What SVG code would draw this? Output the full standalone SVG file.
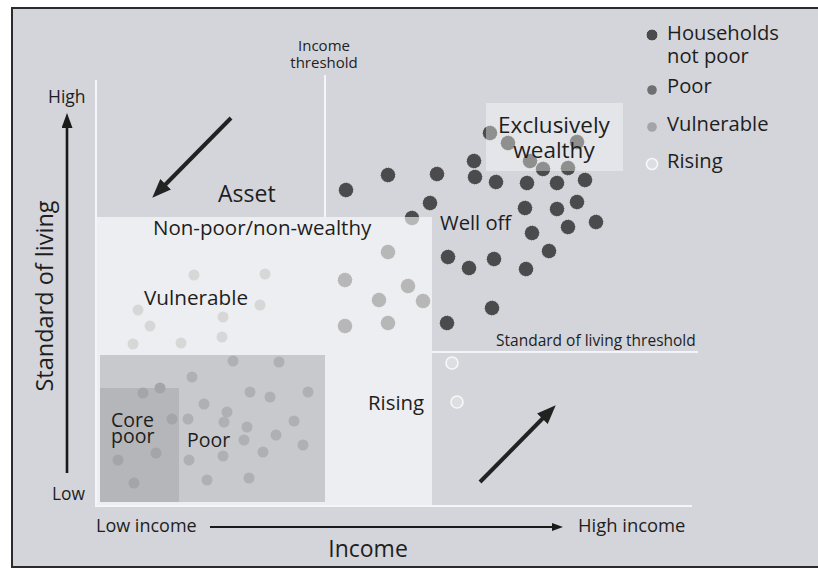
<svg xmlns="http://www.w3.org/2000/svg" width="818" height="572" viewBox="0 0 818 572">
  <defs>
    <style>
      text { font-family: "Open Sans", "Noto Sans", "DejaVu Sans", sans-serif; fill: #1e1e1e; }
      .hh { fill: #4b4b4d; stroke: #e2e2e2; stroke-width: 1; stroke-dasharray: 1.4 1.2; }
      .faint { fill: #9c9c9e; }
      .pd { fill: #afb0b3; }
      .cd { fill: #a4a5a8; }
      .rise { fill: #dcdee2; stroke: #f7f7f7; stroke-width: 1.6; }
      .wline { stroke: #f4f5f7; stroke-width: 2; fill: none; }
      .trend { stroke: #222; stroke-width: 4; fill: none; marker-end: url(#trend-head); }
      .axis { stroke: #1a1a1a; fill: none; }
    </style>
    <marker id="trend-head" markerUnits="userSpaceOnUse" markerWidth="22" markerHeight="16" refX="8" refY="7.5" orient="auto">
      <path d="M0,0 L19,7.5 L0,15 Z" fill="#222"/>
    </marker>
    <marker id="axis-head-v" markerUnits="userSpaceOnUse" markerWidth="16" markerHeight="12" refX="4" refY="5.5" orient="auto">
      <path d="M0,0 L15,5.5 L0,11 Z" fill="#1a1a1a"/>
    </marker>
    <marker id="axis-head-h" markerUnits="userSpaceOnUse" markerWidth="12" markerHeight="10" refX="3" refY="4" orient="auto">
      <path d="M0,0 L11,4 L0,8 Z" fill="#1a1a1a"/>
    </marker>
  </defs>

  <!-- page and panel -->
  <rect x="0" y="0" width="818" height="572" fill="#ffffff"/>
  <rect x="12" y="8" width="830" height="559" fill="#d3d5db" stroke="#2b2b2b" stroke-width="2"/>

  <!-- household dots (drawn under the translucent regions) -->
  <g id="households">
    <circle class="hh" cx="346" cy="190" r="7.5"/>
    <circle class="hh" cx="388" cy="175" r="7.5"/>
    <circle class="hh" cx="437" cy="174" r="7.5"/>
    <circle class="hh" cx="474" cy="161" r="7.5"/>
    <circle class="hh" cx="475" cy="177" r="7.5"/>
    <circle class="hh" cx="496" cy="182" r="7.5"/>
    <circle class="hh" cx="527" cy="183" r="7.5"/>
    <circle class="hh" cx="557" cy="183" r="7.5"/>
    <circle class="hh" cx="585" cy="180" r="7.5"/>
    <circle class="hh" cx="430" cy="203" r="7.5"/>
    <circle class="hh" cx="412" cy="218" r="7.5"/>
    <circle class="hh" cx="525" cy="208" r="7.5"/>
    <circle class="hh" cx="557" cy="209" r="7.5"/>
    <circle class="hh" cx="577" cy="202" r="7.5"/>
    <circle class="hh" cx="596" cy="222" r="7.5"/>
    <circle class="hh" cx="568" cy="227" r="7.5"/>
    <circle class="hh" cx="532" cy="233" r="7.5"/>
    <circle class="hh" cx="549" cy="251" r="7.5"/>
    <circle class="hh" cx="448" cy="257" r="7.5"/>
    <circle class="hh" cx="494" cy="259" r="7.5"/>
    <circle class="hh" cx="469" cy="268" r="7.5"/>
    <circle class="hh" cx="526" cy="269" r="7.5"/>
    <circle class="hh" cx="492" cy="308" r="7.5"/>
    <circle class="hh" cx="447" cy="323" r="7.5"/>
    <!-- behind the exclusively wealthy panel -->
    <circle class="hh" cx="490" cy="133" r="7.5"/>
    <circle class="hh" cx="508" cy="143" r="7.5"/>
    <circle class="hh" cx="530" cy="161" r="7.5"/>
    <circle class="hh" cx="543" cy="169" r="7.5"/>
    <circle class="hh" cx="568" cy="168" r="7.5"/>
    <circle class="hh" cx="577" cy="142" r="7.5"/>
    <!-- behind the non-poor/non-wealthy panel -->
    <circle class="hh" cx="388" cy="252" r="7.5"/>
    <circle class="hh" cx="345" cy="280" r="7.5"/>
    <circle class="hh" cx="408" cy="286" r="7.5"/>
    <circle class="hh" cx="379" cy="300" r="7.5"/>
    <circle class="hh" cx="423" cy="301" r="7.5"/>
    <circle class="hh" cx="345" cy="326" r="7.5"/>
    <circle class="hh" cx="388" cy="323" r="7.5"/>
  </g>

  <g id="vulnerable-dots">
    <circle class="faint" cx="194" cy="275" r="5.5"/>
    <circle class="faint" cx="265" cy="274" r="5.5"/>
    <circle class="faint" cx="260" cy="305" r="5.5"/>
    <circle class="faint" cx="138" cy="310" r="5.5"/>
    <circle class="faint" cx="223" cy="317" r="5.5"/>
    <circle class="faint" cx="150" cy="326" r="5.5"/>
    <circle class="faint" cx="222" cy="337" r="5.5"/>
    <circle class="faint" cx="133" cy="344" r="5.5"/>
    <circle class="faint" cx="181" cy="343" r="5.5"/>
  </g>

  <!-- translucent regions -->
  <g id="non-poor">
    <rect x="96" y="217" width="336" height="289" fill="#ffffff" fill-opacity="0.6"/>
    <text x="153" y="235" font-size="20.5">Non-poor/non-wealthy</text>
  </g>

  <g id="exclusively-wealthy">
    <rect x="486" y="103" width="137" height="68" fill="#ffffff" fill-opacity="0.38"/>
    <text font-size="22.5" text-anchor="middle"><tspan x="554" y="133">Exclusively</tspan><tspan x="554" y="158">wealthy</tspan></text>
  </g>

  <g id="poor">
    <rect x="100" y="355" width="225" height="147" fill="#c7c9cd"/>
    <circle class="pd" cx="233" cy="361" r="5.5"/>
    <circle class="pd" cx="279" cy="362" r="5.5"/>
    <circle class="pd" cx="192" cy="377" r="5.5"/>
    <circle class="pd" cx="250" cy="392" r="5.5"/>
    <circle class="pd" cx="270" cy="397" r="5.5"/>
    <circle class="pd" cx="308" cy="392" r="5.5"/>
    <circle class="pd" cx="204" cy="404" r="5.5"/>
    <circle class="pd" cx="227" cy="412" r="5.5"/>
    <circle class="pd" cx="188" cy="419" r="5.5"/>
    <circle class="pd" cx="224" cy="422" r="5.5"/>
    <circle class="pd" cx="247" cy="427" r="5.5"/>
    <circle class="pd" cx="294" cy="421" r="5.5"/>
    <circle class="pd" cx="276" cy="435" r="5.5"/>
    <circle class="pd" cx="244" cy="440" r="5.5"/>
    <circle class="pd" cx="303" cy="445" r="5.5"/>
    <circle class="pd" cx="189" cy="460" r="5.5"/>
    <circle class="pd" cx="223" cy="456" r="5.5"/>
    <circle class="pd" cx="263" cy="452" r="5.5"/>
    <circle class="pd" cx="207" cy="480" r="5.5"/>
    <circle class="pd" cx="249" cy="478" r="5.5"/>
    <text x="187" y="447" font-size="19.5">Poor</text>
  </g>

  <g id="core-poor">
    <rect x="100" y="388" width="79" height="114" fill="#b5b6b9"/>
    <circle class="cd" cx="143" cy="393" r="5.5"/>
    <circle class="cd" cx="160" cy="388" r="5.5"/>
    <circle class="cd" cx="172" cy="419" r="5.5"/>
    <circle class="cd" cx="156" cy="453" r="5.5"/>
    <circle class="cd" cx="118" cy="460" r="5.5"/>
    <circle class="cd" cx="134" cy="483" r="5.5"/>
    <text font-size="19.5"><tspan x="111" y="427">Core</tspan><tspan x="111" y="443">poor</tspan></text>
  </g>

  <g id="rising">
    <circle class="rise" cx="452" cy="363" r="6"/>
    <circle class="rise" cx="457" cy="402" r="6"/>
    <text x="368" y="410" font-size="20.4">Rising</text>
  </g>

  <g id="asset">
    <text x="218" y="202" font-size="23">Asset</text>
  </g>

  <g id="vulnerable">
    <text x="144" y="305" font-size="20.7">Vulnerable</text>
  </g>

  <g id="well-off">
    <text x="440" y="230" font-size="20.2">Well off</text>
  </g>

  <!-- threshold and frame lines -->
  <g id="thresholds">
    <line class="wline" x1="96" y1="80" x2="96" y2="507"/>
    <line class="wline" x1="96" y1="506" x2="692" y2="506"/>
    <line class="wline" x1="325" y1="75" x2="325" y2="217"/>
    <line class="wline" x1="432" y1="352" x2="698" y2="352"/>
    <text font-size="15" text-anchor="middle"><tspan x="324" y="51">Income</tspan><tspan x="324" y="68">threshold</tspan></text>
    <text x="496" y="346" font-size="15.5">Standard of living threshold</text>
  </g>

  <g id="axes">
    <text x="48" y="103" font-size="17.5">High</text>
    <text x="52" y="500" font-size="17.4">Low</text>
    <text transform="translate(53,296) rotate(-90)" font-size="23.5" text-anchor="middle">Standard of living</text>
    <text x="96" y="532" font-size="18">Low income</text>
    <text x="578" y="532" font-size="18.4">High income</text>
    <text x="368" y="557" font-size="23" text-anchor="middle">Income</text>
  </g>

  <g id="connectors">
    <line class="axis" x1="67" y1="473" x2="67" y2="124" stroke-width="2.6" marker-end="url(#axis-head-v)"/>
    <line class="axis" x1="210" y1="527" x2="555" y2="527" stroke-width="2" marker-end="url(#axis-head-h)"/>
    <line class="trend" x1="231" y1="118" x2="160" y2="190"/>
    <line class="trend" x1="480" y1="482" x2="548" y2="413"/>
  </g>

  <g id="legend">
    <circle cx="652" cy="35" r="6" fill="#4b4b4d" stroke="#e2e2e2" stroke-width="1"/>
    <circle cx="652" cy="90" r="4.8" fill="#6f6f72"/>
    <circle cx="652" cy="127" r="4.8" fill="#a3a4a8"/>
    <circle cx="652" cy="164" r="5.5" fill="#dcdee2" stroke="#f7f7f7" stroke-width="1.6"/>
    <text font-size="20.2"><tspan x="667" y="40">Households</tspan><tspan x="667" y="63">not poor</tspan></text>
    <text x="667" y="93" font-size="20.2">Poor</text>
    <text x="667" y="131" font-size="20.2">Vulnerable</text>
    <text x="667" y="168" font-size="20.2">Rising</text>
  </g>
</svg>
